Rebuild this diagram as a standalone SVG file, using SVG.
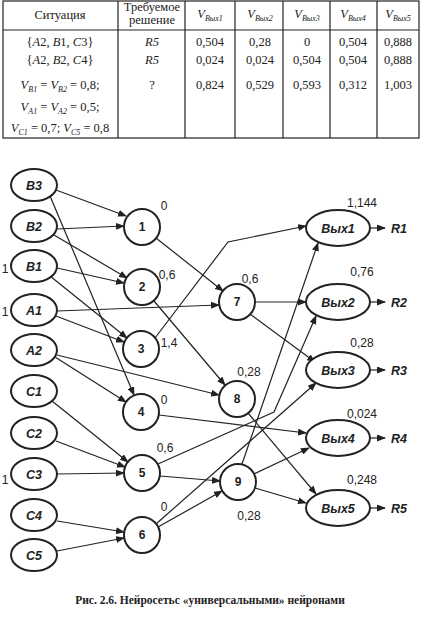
<svg xmlns="http://www.w3.org/2000/svg" width="421" height="618" viewBox="0 0 421 618">
<style>
.tb{fill:none;stroke:#222;stroke-width:1.2}
.tt{font-family:"Liberation Serif","DejaVu Serif",serif;font-size:12.5px;fill:#222;text-anchor:middle}
.it{font-style:italic}
.sub{font-size:8px;font-style:italic}
.n{fill:#fff;stroke:#222;stroke-width:2}
.nl{font-family:"Liberation Sans",Arial,sans-serif;font-size:12.5px;font-weight:bold;font-style:italic;fill:#222;text-anchor:middle}
.cl{font-family:"Liberation Sans",Arial,sans-serif;font-size:12px;font-weight:bold;fill:#222;text-anchor:middle}
.v{font-family:"Liberation Sans",Arial,sans-serif;font-size:12px;fill:#222;text-anchor:middle}
.e{fill:none;stroke:#222;stroke-width:1.2;marker-end:url(#ah)}
.cap{font-family:"Liberation Serif","DejaVu Serif",serif;font-size:11.5px;font-weight:bold;fill:#222;text-anchor:middle}
</style>
<defs>
<marker id="ah" markerWidth="9" markerHeight="7" refX="8" refY="3.5" orient="auto" markerUnits="userSpaceOnUse">
<path d="M0,0 L9,3.5 L0,7 Z" fill="#222"/>
</marker>
</defs>
<rect width="421" height="618" fill="#fff"/>
<g id="table">
<rect class="tb" x="3" y="1" width="416" height="137"/>
<line class="tb" x1="3" y1="30" x2="419" y2="30"/>
<line class="tb" x1="118" y1="1" x2="118" y2="138"/>
<line class="tb" x1="185" y1="1" x2="185" y2="138"/>
<line class="tb" x1="235" y1="1" x2="235" y2="138"/>
<line class="tb" x1="283" y1="1" x2="283" y2="138"/>
<line class="tb" x1="330" y1="1" x2="330" y2="138"/>
<line class="tb" x1="377" y1="1" x2="377" y2="138"/>
<text class="tt" x="60" y="19">Ситуация</text>
<text class="tt" x="152" y="11">Требуемое</text>
<text class="tt" x="152" y="24">решение</text>
<text class="tt" x="210" y="18"><tspan class="it">V</tspan><tspan class="sub" dy="3">Вых1</tspan></text>
<text class="tt" x="260" y="18"><tspan class="it">V</tspan><tspan class="sub" dy="3">Вых2</tspan></text>
<text class="tt" x="307" y="18"><tspan class="it">V</tspan><tspan class="sub" dy="3">Вых3</tspan></text>
<text class="tt" x="353" y="18"><tspan class="it">V</tspan><tspan class="sub" dy="3">Вых4</tspan></text>
<text class="tt" x="398" y="18"><tspan class="it">V</tspan><tspan class="sub" dy="3">Вых5</tspan></text>
<text class="tt" x="60" y="46">{<tspan class="it">A</tspan>2, <tspan class="it">B</tspan>1, <tspan class="it">C</tspan>3}</text>
<text class="tt it" x="152" y="46">R5</text>
<text class="tt" x="210" y="46">0,504</text>
<text class="tt" x="260" y="46">0,28</text>
<text class="tt" x="307" y="46">0</text>
<text class="tt" x="353" y="46">0,504</text>
<text class="tt" x="398" y="46">0,888</text>
<text class="tt" x="60" y="64">{<tspan class="it">A</tspan>2, <tspan class="it">B</tspan>2, <tspan class="it">C</tspan>4}</text>
<text class="tt it" x="152" y="64">R5</text>
<text class="tt" x="210" y="64">0,024</text>
<text class="tt" x="260" y="64">0,024</text>
<text class="tt" x="307" y="64">0,504</text>
<text class="tt" x="353" y="64">0,504</text>
<text class="tt" x="398" y="64">0,888</text>
<text class="tt" x="60" y="89"><tspan class="it">V</tspan><tspan class="sub" dy="3">B1</tspan><tspan dy="-3"> = </tspan><tspan class="it">V</tspan><tspan class="sub" dy="3">B2</tspan><tspan dy="-3"> = 0,8;</tspan></text>
<text class="tt" x="60" y="111"><tspan class="it">V</tspan><tspan class="sub" dy="3">A1</tspan><tspan dy="-3"> = </tspan><tspan class="it">V</tspan><tspan class="sub" dy="3">A2</tspan><tspan dy="-3"> = 0,5;</tspan></text>
<text class="tt" x="60" y="132"><tspan class="it">V</tspan><tspan class="sub" dy="3">C1</tspan><tspan dy="-3"> = 0,7; </tspan><tspan class="it">V</tspan><tspan class="sub" dy="3">C5</tspan><tspan dy="-3"> = 0,8</tspan></text>
<text class="tt" x="152" y="89">?</text>
<text class="tt" x="210" y="89">0,824</text>
<text class="tt" x="260" y="89">0,529</text>
<text class="tt" x="307" y="89">0,593</text>
<text class="tt" x="353" y="89">0,312</text>
<text class="tt" x="398" y="89">1,003</text>
</g>
<g id="connectors">
<path class="e" d="M56,190 L126,216"/>
<path class="e" d="M57,229 L124,226"/>
<path class="e" d="M54,235 L127,278"/>
<path class="e" d="M57,268 L124,283"/>
<path class="e" d="M50,276 L127,338"/>
<path class="e" d="M56,316 L124,342"/>
<path class="e" d="M57,311 L219,305"/>
<path class="e" d="M50,196 L134,395"/>
<path class="e" d="M55,357 L126,402"/>
<path class="e" d="M57,355 L219,395"/>
<path class="e" d="M52,401 L128,462"/>
<path class="e" d="M56,441 L125,467"/>
<path class="e" d="M57,474 L124,473"/>
<path class="e" d="M57,521 L124,532"/>
<path class="e" d="M57,551 L124,538"/>
<path class="e" d="M156,238 L223,291"/>
<path class="e" d="M154,301 L225,385"/>
<path class="e" d="M155,338 L228,242 L306,226"/>
<path class="e" d="M159,415 L306,433"/>
<path class="e" d="M158,464 L274,412 L316,316"/>
<path class="e" d="M160,476 L220,481"/>
<path class="e" d="M158,527 L222,491"/>
<path class="e" d="M156,524 L316,383"/>
<path class="e" d="M255,302 L306,302"/>
<path class="e" d="M250,314 L315,362"/>
<path class="e" d="M248,413 L316,494"/>
<path class="e" d="M242,464 L318,243"/>
<path class="e" d="M254,474 L309,448"/>
<path class="e" d="M255,488 L306,503"/>
<path class="e" d="M370,228 L385,228"/>
<path class="e" d="M370,302 L385,302"/>
<path class="e" d="M370,370 L385,370"/>
<path class="e" d="M370,438 L385,438"/>
<path class="e" d="M370,508 L385,508"/>
</g>
<g id="B3"><ellipse class="n" cx="34" cy="185" rx="23" ry="16"/><text class="nl" x="34" y="190">B3</text></g>
<g id="B2"><ellipse class="n" cx="34" cy="226" rx="23" ry="16"/><text class="nl" x="34" y="231">B2</text></g>
<g id="B1"><ellipse class="n" cx="34" cy="266" rx="23" ry="16"/><text class="nl" x="34" y="271">B1</text></g>
<g id="A1"><ellipse class="n" cx="34" cy="310" rx="23" ry="16"/><text class="nl" x="34" y="315">A1</text></g>
<g id="A2"><ellipse class="n" cx="34" cy="350" rx="23" ry="16"/><text class="nl" x="34" y="355">A2</text></g>
<g id="C1"><ellipse class="n" cx="34" cy="391" rx="23" ry="16"/><text class="nl" x="34" y="396">C1</text></g>
<g id="C2"><ellipse class="n" cx="34" cy="433" rx="23" ry="16"/><text class="nl" x="34" y="438">C2</text></g>
<g id="C3"><ellipse class="n" cx="34" cy="474" rx="23" ry="16"/><text class="nl" x="34" y="479">C3</text></g>
<g id="C4"><ellipse class="n" cx="34" cy="515" rx="23" ry="16"/><text class="nl" x="34" y="520">C4</text></g>
<g id="C5"><ellipse class="n" cx="34" cy="555" rx="23" ry="16"/><text class="nl" x="34" y="560">C5</text></g>
<g id="in-values">
<text class="v" x="5" y="273">1</text>
<text class="v" x="5" y="316">1</text>
<text class="v" x="5" y="484">1</text>
</g>
<g id="n1"><circle class="n" cx="142" cy="227" r="18"/><text class="cl" x="142" y="231">1</text><text class="v" x="164" y="210">0</text></g>
<g id="n2"><circle class="n" cx="142" cy="287" r="18"/><text class="cl" x="142" y="291">2</text><text class="v" x="167" y="279">0,6</text></g>
<g id="n3"><circle class="n" cx="141" cy="349" r="18"/><text class="cl" x="141" y="353">3</text><text class="v" x="169" y="347">1,4</text></g>
<g id="n4"><circle class="n" cx="141" cy="412" r="18"/><text class="cl" x="141" y="416">4</text><text class="v" x="164" y="404">0</text></g>
<g id="n5"><circle class="n" cx="142" cy="473" r="18"/><text class="cl" x="142" y="477">5</text><text class="v" x="165" y="452">0,6</text></g>
<g id="n6"><circle class="n" cx="142" cy="535" r="18"/><text class="cl" x="142" y="539">6</text><text class="v" x="164" y="511">0</text></g>
<g id="n7"><circle class="n" cx="237" cy="302" r="18"/><text class="cl" x="237" y="306">7</text><text class="v" x="250" y="283">0,6</text></g>
<g id="n8"><circle class="n" cx="237" cy="399" r="18"/><text class="cl" x="237" y="403">8</text><text class="v" x="249" y="376">0,28</text></g>
<g id="n9"><circle class="n" cx="238" cy="482" r="18"/><text class="cl" x="238" y="486">9</text><text class="v" x="249" y="520">0,28</text></g>
<g id="out1"><ellipse class="n" cx="338" cy="228" rx="32" ry="18"/><text class="nl" x="338" y="233">Вых1</text><text class="v" x="362" y="207">1,144</text><text class="nl" x="399" y="233">R1</text></g>
<g id="out2"><ellipse class="n" cx="338" cy="302" rx="32" ry="18"/><text class="nl" x="338" y="307">Вых2</text><text class="v" x="362" y="276">0,76</text><text class="nl" x="399" y="307">R2</text></g>
<g id="out3"><ellipse class="n" cx="338" cy="370" rx="32" ry="18"/><text class="nl" x="338" y="375">Вых3</text><text class="v" x="362" y="347">0,28</text><text class="nl" x="399" y="375">R3</text></g>
<g id="out4"><ellipse class="n" cx="338" cy="438" rx="32" ry="18"/><text class="nl" x="338" y="443">Вых4</text><text class="v" x="362" y="418">0,024</text><text class="nl" x="399" y="443">R4</text></g>
<g id="out5"><ellipse class="n" cx="338" cy="508" rx="32" ry="18"/><text class="nl" x="338" y="513">Вых5</text><text class="v" x="362" y="484">0,248</text><text class="nl" x="399" y="513">R5</text></g>
<text class="cap" x="210" y="604">Рис. 2.6. Нейросетьс «универсальными» нейронами</text>
</svg>
